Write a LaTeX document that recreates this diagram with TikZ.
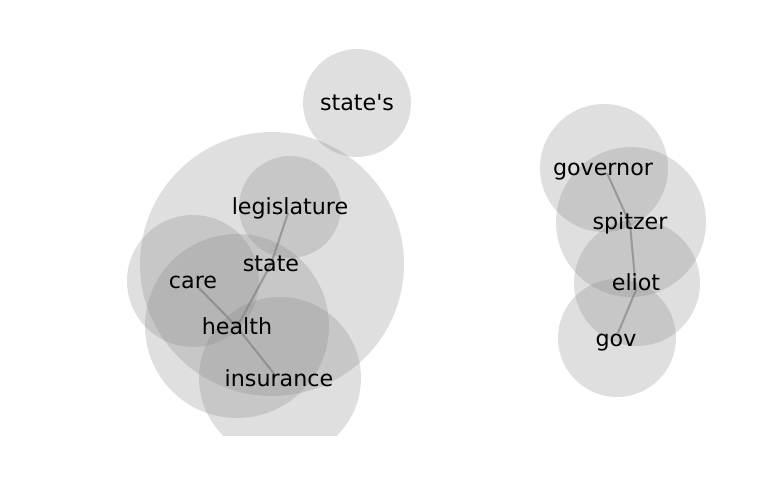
\documentclass[tikz,border=0pt]{standalone}
\usepackage{fontspec}
\newfontfamily\wordfont{DejaVu Sans}
\begin{document}
\begin{tikzpicture}[x=1bp,y=-1bp,
  bubble/.style={fill=gray,fill opacity=0.25,draw=none},
  link/.style={draw=gray,draw opacity=0.65,line width=2.1bp,line join=round},
  word/.style={anchor=base,inner sep=0pt,text=black,font=\wordfont\fontsize{22.2bp}{26bp}\selectfont}]
\useasboundingbox (0,0) rectangle (768,500);
\begin{scope}
  \clip (0,0) rectangle (768,435);
  \fill[bubble] (357,103) circle[radius=54];
  \fill[bubble] (272,264) circle[radius=132];
  \fill[bubble] (290,207) circle[radius=51];
  \fill[bubble] (193,281) circle[radius=66];
  \fill[bubble] (237,326) circle[radius=92];
  \fill[bubble] (280,378) circle[radius=81];
  \fill[bubble] (604,168) circle[radius=64];
  \fill[bubble] (631,222) circle[radius=75];
  \fill[bubble] (637,283) circle[radius=63];
  \fill[bubble] (617,338) circle[radius=59];
\end{scope}
% anchor points of the links
\coordinate (p-legislature) at (288,213);
\coordinate (p-state) at (271,264);
\coordinate (p-health) at (237,327);
\coordinate (p-care) at (198,287);
\coordinate (p-insurance) at (275,375);
\coordinate (p-governor) at (607,173);
\coordinate (p-spitzer) at (630,224);
\coordinate (p-eliot) at (636,290);
\coordinate (p-gov) at (618,333);
\draw[link] (p-legislature) -- (p-state) -- (p-health);
\draw[link] (p-care) -- (p-health) -- (p-insurance);
\draw[link] (p-governor) -- (p-spitzer) -- (p-eliot) -- (p-gov);
% words
\node[word] (w-states) at (357,111) {state's};
\node[word] (w-legislature) at (290,215) {legislature};
\node[word] (w-state) at (271,272) {state};
\node[word] (w-care) at (193,289) {care};
\node[word] (w-health) at (237,334) {health};
\node[word] (w-insurance) at (279,386) {insurance};
\node[word] (w-governor) at (603,176) {governor};
\node[word] (w-spitzer) at (630,230) {spitzer};
\node[word] (w-eliot) at (636,291) {eliot};
\node[word] (w-gov) at (616,346) {gov};
\end{tikzpicture}
\end{document}
